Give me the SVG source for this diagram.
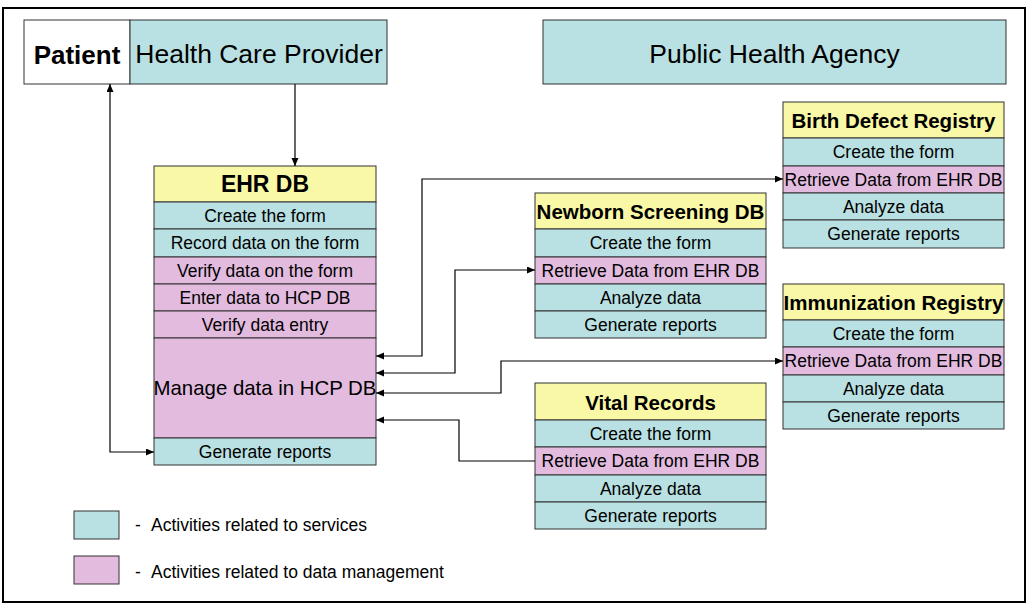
<svg xmlns="http://www.w3.org/2000/svg" width="1030" height="604" viewBox="0 0 1030 604">
<style>
text{font-family:"Liberation Sans",Arial,sans-serif;fill:#000;text-anchor:middle}
.box{stroke:#333;stroke-width:1}
.svc{fill:#B9E0E2}
.dm{fill:#E2BBDF}
.hd{fill:#F9F8A6}
.row{font-size:17.5px}
.hdt{font-size:20.5px;font-weight:bold}
.con{fill:none;stroke:#000;stroke-width:1.2}
.lg{font-size:17.5px;text-anchor:start}
</style>
<defs>
<marker id="ah" markerUnits="userSpaceOnUse" markerWidth="9" markerHeight="8" refX="8" refY="3.5" orient="auto-start-reverse">
<path d="M0,0 L8,3.5 L0,7 z" fill="#000"/>
</marker>
</defs>
<rect x="0" y="0" width="1030" height="604" fill="#fff"/>
<rect x="3" y="8" width="1022" height="594" fill="none" stroke="#000" stroke-width="2"/>

<g id="patient">
<rect class="box" x="24" y="20" width="106" height="64" fill="#fff" stroke-width="1.5"/>
<text x="77" y="64" style="font-size:26px;font-weight:bold">Patient</text>
</g>
<g id="hcp">
<rect class="box svc" x="130" y="20" width="257" height="64"/>
<text x="259" y="63" style="font-size:26.5px">Health Care Provider</text>
</g>
<g id="pha">
<rect class="box svc" x="543" y="20" width="463" height="64"/>
<text x="774.5" y="63" style="font-size:26.5px">Public Health Agency</text>
</g>

<g id="ehr">
<rect class="box hd" x="154" y="166" width="222" height="36"/>
<text x="265" y="192" style="font-size:23px;font-weight:bold">EHR DB</text>
<rect class="box svc" x="154" y="202" width="222" height="27"/>
<text class="row" x="265" y="222">Create the form</text>
<rect class="box svc" x="154" y="229" width="222" height="28"/>
<text class="row" x="265" y="249">Record data on the form</text>
<rect class="box dm" x="154" y="257" width="222" height="27"/>
<text class="row" x="265" y="277">Verify data on the form</text>
<rect class="box dm" x="154" y="284" width="222" height="27"/>
<text class="row" x="265" y="304">Enter data to HCP DB</text>
<rect class="box dm" x="154" y="311" width="222" height="27"/>
<text class="row" x="265" y="331">Verify data entry</text>
<rect class="box dm" x="154" y="338" width="222" height="100"/>
<text x="265" y="395" style="font-size:20.4px">Manage data in HCP DB</text>
<rect class="box svc" x="154" y="438" width="222" height="27"/>
<text class="row" x="265" y="458">Generate reports</text>
</g>

<g id="newborn">
<rect class="box hd" x="535" y="193" width="231" height="36"/>
<text class="hdt" x="650.5" y="219">Newborn Screening DB</text>
<rect class="box svc" x="535" y="229" width="231" height="28"/>
<text class="row" x="650.5" y="249">Create the form</text>
<rect class="box dm" x="535" y="257" width="231" height="27"/>
<text class="row" x="650.5" y="277">Retrieve Data from EHR DB</text>
<rect class="box svc" x="535" y="284" width="231" height="27"/>
<text class="row" x="650.5" y="304">Analyze data</text>
<rect class="box svc" x="535" y="311" width="231" height="27"/>
<text class="row" x="650.5" y="331">Generate reports</text>
</g>

<g id="vital">
<rect class="box hd" x="535" y="383" width="231" height="37"/>
<text class="hdt" x="650.5" y="410">Vital Records</text>
<rect class="box svc" x="535" y="420" width="231" height="27"/>
<text class="row" x="650.5" y="440">Create the form</text>
<rect class="box dm" x="535" y="447" width="231" height="28"/>
<text class="row" x="650.5" y="467">Retrieve Data from EHR DB</text>
<rect class="box svc" x="535" y="475" width="231" height="27"/>
<text class="row" x="650.5" y="495">Analyze data</text>
<rect class="box svc" x="535" y="502" width="231" height="27"/>
<text class="row" x="650.5" y="522">Generate reports</text>
</g>

<g id="birth">
<rect class="box hd" x="783" y="102" width="221" height="36"/>
<text class="hdt" x="893.5" y="128">Birth Defect Registry</text>
<rect class="box svc" x="783" y="138" width="221" height="28"/>
<text class="row" x="893.5" y="158">Create the form</text>
<rect class="box dm" x="783" y="166" width="221" height="27"/>
<text class="row" x="893.5" y="186">Retrieve Data from EHR DB</text>
<rect class="box svc" x="783" y="193" width="221" height="27"/>
<text class="row" x="893.5" y="213">Analyze data</text>
<rect class="box svc" x="783" y="220" width="221" height="28"/>
<text class="row" x="893.5" y="240">Generate reports</text>
</g>

<g id="immunization">
<rect class="box hd" x="783" y="284" width="221" height="36"/>
<text class="hdt" x="893.5" y="310">Immunization Registry</text>
<rect class="box svc" x="783" y="320" width="221" height="27"/>
<text class="row" x="893.5" y="340">Create the form</text>
<rect class="box dm" x="783" y="347" width="221" height="28"/>
<text class="row" x="893.5" y="367">Retrieve Data from EHR DB</text>
<rect class="box svc" x="783" y="375" width="221" height="27"/>
<text class="row" x="893.5" y="395">Analyze data</text>
<rect class="box svc" x="783" y="402" width="221" height="27"/>
<text class="row" x="893.5" y="422">Generate reports</text>
</g>

<g id="connectors">
<path class="con" d="M295,84 V166" marker-end="url(#ah)"/>
<path class="con" d="M154,452 H110 V84" marker-start="url(#ah)" marker-end="url(#ah)"/>
<path class="con" d="M376,356 H422 V179 H783" marker-start="url(#ah)" marker-end="url(#ah)"/>
<path class="con" d="M376,373 H455 V270 H535" marker-start="url(#ah)" marker-end="url(#ah)"/>
<path class="con" d="M376,393 H501 V361 H783" marker-start="url(#ah)" marker-end="url(#ah)"/>
<path class="con" d="M535,461 H459 V420 H376" marker-end="url(#ah)"/>
</g>

<g id="legend">
<rect class="box svc" x="74" y="511" width="45" height="28"/>
<text class="lg" x="135" y="531">-</text>
<text class="lg" x="151" y="531">Activities related to services</text>
<rect class="box dm" x="74" y="556" width="45" height="28"/>
<text class="lg" x="135" y="578">-</text>
<text class="lg" x="151" y="578">Activities related to data management</text>
</g>
</svg>
